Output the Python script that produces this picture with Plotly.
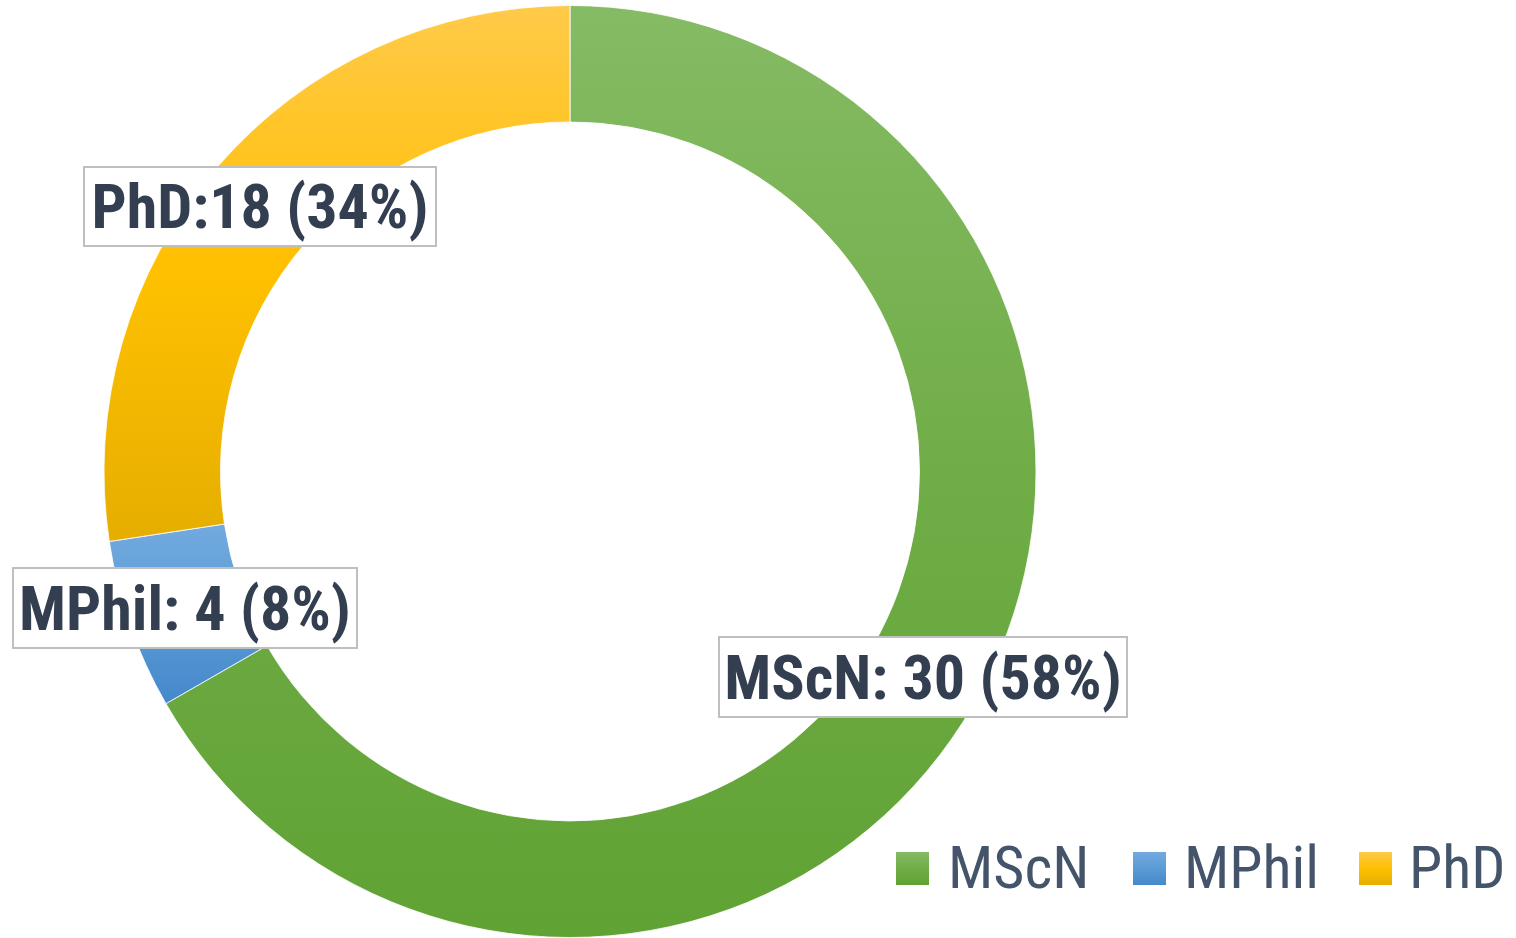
import json
import plotly.graph_objects as go

# ---- data ----
categories = ["MScN", "MPhil", "PhD"]
# slice sizes as drawn in the picture (share of the ring, %)
slice_share_pct = [66.7, 5.9, 27.4]
# data-label texts as printed on the chart
label_texts = ["MScN: 30 (58%)", "MPhil: 4 (8%)", "PhD:18 (34%)"]
colors = ["#70AD47", "#5B9BD5", "#FFC000"]
# vertical gradient stops (top, middle, bottom) per category
gradients = [
    ["#85BB64", "#70AD47", "#60A234"],
    ["#72AADF", "#5B9BD5", "#4588CB"],
    ["#FFCA4A", "#FFC000", "#E5AE00"],
]

W, H = 1516, 938
FONT = "Liberation Sans Narrow, Arial Narrow, Roboto Condensed, Liberation Sans, sans-serif"

fig = go.Figure()
fig.add_trace(go.Pie(
    labels=categories,
    values=slice_share_pct,
    hole=0.75,
    sort=False,
    direction="clockwise",
    rotation=0,
    textinfo="none",
    hoverinfo="label",
    marker=dict(colors=colors, line=dict(color="white", width=0.8)),
    domain=dict(x=[104 / W, 1036 / W], y=[0.5 / H, 932.5 / H]),
    showlegend=False,
))

# data label boxes (centre x, centre y, width, height in px)
label_boxes = [(923, 677, 410, 82), (185, 608, 346, 82), (260, 207, 354, 81)]
annotations = []
for txt, (cx, cy, bw, bh) in zip(label_texts, label_boxes):
    annotations.append(dict(
        text=txt, xref="paper", yref="paper",
        x=cx / W, y=1 - cy / H, xanchor="center", yanchor="middle",
        showarrow=False, width=bw - 4, height=bh - 4, align="center",
        valign="middle",
        font=dict(family=FONT, size=62, color="#333F50", weight="bold"),
        bgcolor="white", bordercolor="#BFBFBF", borderwidth=2, borderpad=0,
    ))

# custom legend
legend_sq_x = [896, 1133, 1359]
legend_txt_x = [946, 1182, 1407]
shapes = []
for cat, col, sx, tx in zip(categories, colors, legend_sq_x, legend_txt_x):
    shapes.append(dict(
        type="rect", xref="paper", yref="paper",
        x0=sx / W, x1=(sx + 33) / W, y0=1 - 885 / H, y1=1 - 852 / H,
        fillcolor=col, line=dict(width=0),
    ))
    annotations.append(dict(
        text=cat, xref="paper", yref="paper",
        x=tx / W, y=1 - 867 / H, xanchor="left", yanchor="middle",
        showarrow=False,
        font=dict(family=FONT, size=60, color="#44546A"),
    ))

fig.update_layout(
    width=W, height=H,
    margin=dict(l=0, r=0, t=0, b=0),
    paper_bgcolor="white", plot_bgcolor="white",
    annotations=annotations, shapes=shapes,
)

post_js = """
document.body.style.margin = '0';
var gd = document.getElementById('{plot_id}');
var GRADS = __GRADS__;
function applyGrad() {
  var ns = 'http://www.w3.org/2000/svg';
  var svg = gd.querySelector('svg.main-svg');
  var defs = svg.querySelector('defs');
  GRADS.forEach(function (st, i) {
    var id = 'lgrad' + i;
    if (!document.getElementById(id)) {
      var lg = document.createElementNS(ns, 'linearGradient');
      lg.setAttribute('id', id);
      lg.setAttribute('x1', '0'); lg.setAttribute('y1', '0');
      lg.setAttribute('x2', '0'); lg.setAttribute('y2', '1');
      st.forEach(function (c, j) {
        var s = document.createElementNS(ns, 'stop');
        s.setAttribute('offset', String(j / (st.length - 1)));
        s.setAttribute('stop-color', c);
        lg.appendChild(s);
      });
      defs.appendChild(lg);
    }
  });
  gd.querySelectorAll('g.slice path.surface').forEach(function (p, i) {
    p.style.fill = 'url(#lgrad' + (i % GRADS.length) + ')';
  });
  gd.querySelectorAll('.shapelayer path').forEach(function (p, i) {
    p.style.fill = 'url(#lgrad' + (i % GRADS.length) + ')';
  });
}
applyGrad();
gd.on('plotly_afterplot', applyGrad);
""".replace("__GRADS__", json.dumps(gradients))

fig.write_html("out.html", post_script=post_js, config={"displayModeBar": False})
